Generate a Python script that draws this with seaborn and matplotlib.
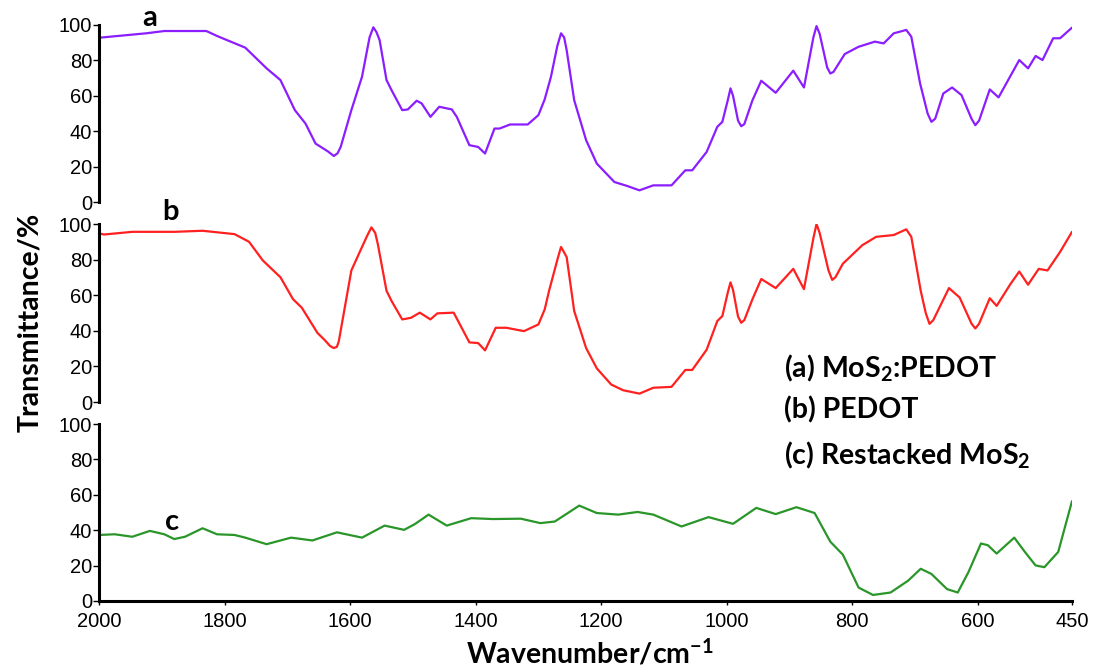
import numpy as np
import pandas as pd
import matplotlib
matplotlib.use("Agg")
import matplotlib.pyplot as plt
import seaborn as sns

# FTIR spectra: wavenumber (cm^-1) and transmittance (%)
wn_a = [2000, 1925, 1896, 1829, 1812, 1767, 1733, 1711, 1688, 1671, 1655, 1635,
        1626, 1620, 1615, 1598, 1581, 1569, 1563, 1558, 1553, 1542, 1534, 1517,
        1508, 1494, 1486, 1472, 1458, 1438, 1430, 1410, 1396, 1385, 1370, 1362,
        1345, 1317, 1300, 1290, 1280, 1270, 1264, 1259, 1255, 1243, 1224, 1207,
        1179, 1159, 1139, 1117, 1088, 1066, 1055, 1032, 1015, 1007, 998, 994,
        990, 982, 977, 972, 959, 945, 922, 894, 877, 862, 857, 852, 840, 835,
        830, 812, 790, 764, 750, 734, 714, 706, 692, 680, 674, 668, 655, 641,
        626, 610, 604, 598, 581, 567, 534, 520, 508, 497, 480, 469, 450]
tr_a = [92.8, 95.3, 96.6, 96.6, 93.8, 87.2, 75.5, 68.9, 51.9, 44.3, 33.0, 28.5,
        26.0, 27.5, 31.1, 51.9, 70.8, 93.0, 98.7, 96.0, 91.5, 68.9, 63.2, 51.9,
        52.3, 57.2, 55.7, 48.1, 53.8, 52.3, 48.1, 32.1, 31.1, 27.4, 41.5, 41.5,
        43.8, 43.8, 49.1, 58.0, 70.8, 88.0, 95.3, 93.0, 85.8, 57.5, 34.9, 21.7,
        11.3, 9.1, 6.6, 9.4, 9.4, 17.9, 17.9, 28.3, 42.5, 45.3, 58.0, 64.2,
        60.0, 46.0, 42.8, 44.0, 57.5, 68.5, 61.7, 74.2, 64.7, 93.0, 99.4, 95.0,
        76.0, 72.6, 73.5, 83.6, 87.7, 90.6, 89.6, 95.3, 97.2, 93.4, 67.0, 50.0,
        45.3, 47.0, 61.3, 64.7, 60.4, 47.0, 43.4, 46.0, 63.6, 59.1, 80.2, 75.5,
        82.5, 80.2, 92.5, 92.5, 98.5]

wn_b = [2000, 1992, 1947, 1880, 1835, 1784, 1761, 1739, 1711, 1691, 1677, 1652,
        1641, 1632, 1626, 1621, 1618, 1598, 1581, 1572, 1566, 1560, 1556, 1542,
        1534, 1517, 1503, 1489, 1472, 1461, 1435, 1410, 1396, 1385, 1368, 1351,
        1323, 1300, 1290, 1283, 1269, 1264, 1259, 1255, 1243, 1224, 1207, 1184,
        1165, 1139, 1117, 1088, 1066, 1055, 1032, 1015, 1007, 998, 994, 990,
        982, 977, 972, 959, 945, 922, 894, 877, 862, 857, 852, 838, 832, 827,
        815, 784, 762, 734, 714, 706, 691, 683, 677, 671, 646, 629, 610, 604,
        598, 581, 570, 548, 534, 520, 503, 489, 469, 450]
tr_b = [94.7, 94.1, 95.6, 95.6, 96.2, 94.3, 90.0, 79.5, 70.1, 57.8, 53.0, 38.8,
        35.0, 31.5, 30.3, 31.0, 34.1, 73.9, 87.1, 94.0, 98.1, 95.0, 89.0, 62.5,
        56.8, 46.4, 47.3, 50.2, 46.4, 49.8, 50.2, 33.5, 33.1, 29.0, 41.7, 41.7,
        39.8, 43.6, 52.0, 62.5, 81.0, 87.1, 84.0, 81.4, 51.1, 30.3, 18.9, 9.8,
        6.6, 4.7, 8.0, 8.5, 18.0, 18.0, 29.4, 45.5, 48.3, 62.0, 67.2, 63.0,
        48.0, 44.5, 46.0, 57.8, 69.1, 64.0, 74.8, 63.4, 92.0, 100.0, 95.0, 74.0,
        68.6, 70.0, 77.7, 88.1, 92.8, 93.8, 97.0, 92.8, 62.5, 50.0, 43.9, 46.0,
        64.0, 58.7, 44.0, 41.3, 44.0, 58.3, 54.0, 66.3, 73.3, 65.9, 74.8, 73.9,
        84.3, 95.6]

wn_c = [2000, 1975, 1947, 1919, 1896, 1880, 1863, 1835, 1812, 1784, 1767, 1733,
        1694, 1660, 1621, 1581, 1545, 1514, 1497, 1475, 1446, 1407, 1373, 1328,
        1297, 1274, 1257, 1235, 1207, 1173, 1142, 1117, 1072, 1029, 990, 953,
        922, 889, 860, 835, 815, 790, 767, 739, 711, 691, 674, 649, 632, 615,
        595, 584, 570, 542, 525, 508, 494, 472, 450]
tr_c = [37.3, 37.7, 36.3, 39.6, 37.7, 35.0, 36.3, 41.1, 37.7, 37.3, 35.8, 32.1,
        35.8, 34.2, 38.8, 35.8, 42.6, 40.2, 43.4, 48.8, 42.6, 46.8, 46.3, 46.5,
        44.0, 44.9, 48.8, 53.9, 49.7, 48.8, 50.3, 48.8, 42.1, 47.4, 43.6, 52.6,
        49.1, 53.0, 49.7, 33.5, 26.2, 7.6, 3.4, 4.8, 11.5, 18.2, 15.3, 6.7,
        4.8, 16.3, 32.5, 31.5, 26.8, 35.8, 27.7, 20.1, 19.1, 27.7, 56.4]

panel_tags = ["a", "b", "c"]
legend_lines = ["(a) MoS$_\\mathbf{2}$:PEDOT", "(b) PEDOT",
                "(c) Restacked MoS$_\\mathbf{2}$"]
x_ticks = [2000, 1800, 1600, 1400, 1200, 1000, 800, 600, 450]
y_ticks = [0, 20, 40, 60, 80, 100]
colors = ["#8B1EFF", "#FF2020", "#2A962A"]

sns.set_theme(style="white")
plt.rcParams["font.family"] = ["Liberation Sans", "DejaVu Sans"]
plt.rcParams["mathtext.fontset"] = "custom"
plt.rcParams["mathtext.rm"] = "Lato:bold"
plt.rcParams["mathtext.bf"] = "Lato:bold"
plt.rcParams["mathtext.it"] = "Lato:bold"

W, H = 1095, 669
fig = plt.figure(figsize=(W / 100, H / 100), dpi=100)

def frac_x(px):
    return px / W

def frac_y(py):
    return 1 - py / H

left, right = 99, 1072
panels = [(25, 202), (224, 402), (424, 601)]
series = [(wn_a, tr_a), (wn_b, tr_b), (wn_c, tr_c)]

axes = []
for i, ((top, bot), (wn, tr)) in enumerate(zip(panels, series)):
    ax = fig.add_axes([frac_x(left), frac_y(bot), frac_x(right) - frac_x(left),
                       (bot - top) / H])
    df = pd.DataFrame({"wn": wn, "tr": tr})
    sns.lineplot(data=df, x="wn", y="tr", ax=ax, color=colors[i], lw=1.6,
                 sort=False, solid_joinstyle="round", solid_capstyle="round")
    ax.set_xlim(2000, 450)
    ax.set_ylim(0, 100)
    ax.set_yticks(y_ticks)
    ax.set_xlabel("")
    ax.set_ylabel("")
    for s in ["top", "right"]:
        ax.spines[s].set_visible(False)
    ax.spines["left"].set_linewidth(2.2)
    ax.spines["left"].set_color("black")
    ax.tick_params(axis="y", direction="out", length=4, width=1.0,
                   colors="black", labelsize=14.5, pad=1, left=True)
    ax.set_facecolor("none")
    if i < 2:
        ax.spines["bottom"].set_visible(False)
        ax.set_xticks([])
    else:
        ax.spines["bottom"].set_linewidth(2.2)
        ax.spines["bottom"].set_color("black")
        ax.set_xticks(x_ticks)
        ax.set_xticklabels([str(t) for t in x_ticks])
        ax.tick_params(axis="x", direction="out", length=3, width=1.0,
                       colors="black", labelsize=14.5, pad=5, bottom=True)
    axes.append(ax)

label_font = dict(family=["Lato", "DejaVu Sans"], weight="bold", color="black")

# panel tags
for tag, (px, py) in zip(panel_tags, [(150, 18), (170, 212), (172, 522)]):
    fig.text(frac_x(px), frac_y(py), tag, ha="center", va="center",
             fontsize=21, **label_font)

# legend block
for txt, py in zip(legend_lines, [368, 410, 455]):
    fig.text(frac_x(784), frac_y(py), txt, ha="left", va="center",
             fontsize=20.5, **label_font)

fig.text(frac_x(30), frac_y(322), "Transmittance/%", rotation=90,
         ha="center", va="center", fontsize=20.5, **label_font)
fig.text(frac_x(590), frac_y(653), "Wavenumber/cm$^{\\mathbf{-1}}$",
         ha="center", va="center", fontsize=20.5, **label_font)

fig.savefig("out.png", dpi=100, facecolor="white")
